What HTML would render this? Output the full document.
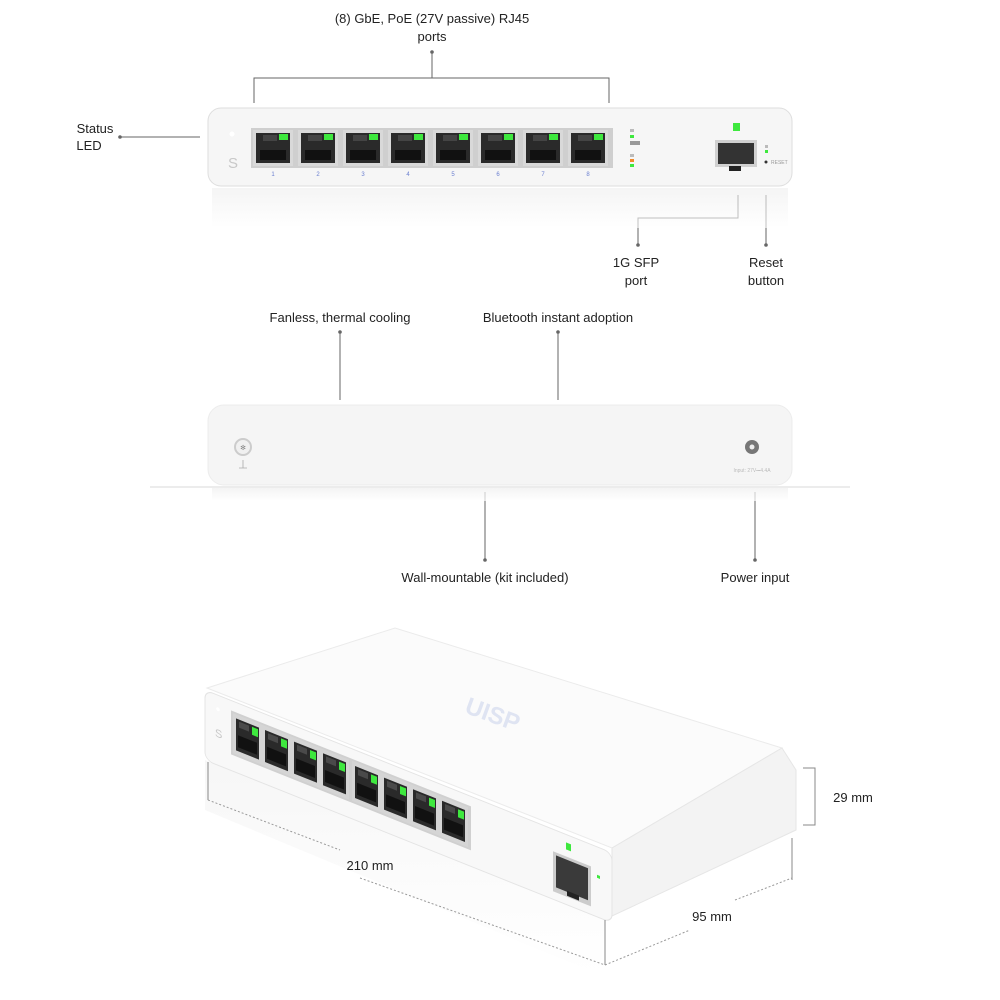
<!DOCTYPE html>
<html><head><meta charset="utf-8"><style>
html,body{margin:0;padding:0;background:#fff;}
svg{display:block;font-family:"Liberation Sans",sans-serif;}
</style></head><body>
<svg width="1000" height="1000" viewBox="0 0 1000 1000" xmlns="http://www.w3.org/2000/svg">
<defs>
<linearGradient id="refl" x1="0" y1="0" x2="0" y2="1"><stop offset="0" stop-color="#eee"/><stop offset="1" stop-color="#fff"/></linearGradient>
<g id="port">
<rect x="0" y="0" width="40" height="36" fill="#d9d9d9"/>
<rect x="3" y="3" width="34" height="30" fill="#2a2a2a"/>
<rect x="10" y="5" width="14" height="6" fill="#444"/>
<rect x="7" y="20" width="26" height="10" fill="#111"/>
<rect x="26" y="4" width="9" height="6" fill="#3ee83e"/>
</g>
<g id="sport">
<rect x="0" y="0" width="29" height="40" fill="#d5d5d5"/>
<rect x="3" y="4" width="23" height="32" fill="#2a2a2a"/>
<rect x="6" y="6" width="10" height="6" fill="#4a4a4a"/>
<rect x="5" y="20" width="19" height="12" fill="#111"/>
<rect x="19" y="6" width="6" height="8" fill="#3ee83e"/>
</g>
</defs>

<g stroke="#666" stroke-width="1" fill="none">
<path d="M432 52 V78 M254 103 V78 H609 V103"/>
<path d="M120 137 H200"/>
<path d="M738 195 V218 H638 V245"/>
<path d="M766 195 V245"/>
<path d="M340 332 V400 M558 332 V400"/>
<path d="M485 492 V560 M755 492 V560"/>
</g>
<g fill="#666"><circle cx="432" cy="52" r="1.8"/><circle cx="120" cy="137" r="1.8"/><circle cx="638" cy="245" r="1.8"/><circle cx="766" cy="245" r="1.8"/><circle cx="340" cy="332" r="1.8"/><circle cx="558" cy="332" r="1.8"/><circle cx="485" cy="560" r="1.8"/><circle cx="755" cy="560" r="1.8"/></g>

<!-- Device 1 -->
<rect x="212" y="188" width="576" height="40" fill="url(#refl)" opacity="0.6"/>
<rect x="208" y="108" width="584" height="78" rx="13" fill="#f6f6f6" stroke="#dedede"/>
<circle cx="232" cy="134" r="2.5" fill="#fff"/>
<text x="228" y="168" font-size="15" fill="#c8c8c8">S</text>
<rect x="251" y="128" width="362" height="40" fill="#cfcfcf"/>
<use href="#port" x="253" y="130"/><use href="#port" x="298" y="130"/><use href="#port" x="343" y="130"/><use href="#port" x="388" y="130"/>
<use href="#port" x="433" y="130"/><use href="#port" x="478" y="130"/><use href="#port" x="523" y="130"/><use href="#port" x="568" y="130"/>
<g font-size="6" fill="#6a7fd0" text-anchor="middle">
<text x="273" y="176">1</text><text x="318" y="176">2</text><text x="363" y="176">3</text><text x="408" y="176">4</text><text x="453" y="176">5</text><text x="498" y="176">6</text><text x="543" y="176">7</text><text x="588" y="176">8</text>
</g>
<g>
<rect x="630" y="129" width="4" height="3" fill="#bbb"/><rect x="630" y="135" width="4" height="3" fill="#3ee83e"/><rect x="630" y="141" width="10" height="4" fill="#999"/>
<rect x="630" y="154" width="4" height="3" fill="#bbb"/><rect x="630" y="159" width="4" height="3" fill="#f28a2a"/><rect x="630" y="164" width="4" height="3" fill="#3ee83e"/>
</g>
<rect x="733" y="123" width="7" height="8" fill="#3ee83e"/>
<rect x="715" y="140" width="42" height="27" fill="#d0d0d0"/>
<rect x="718" y="143" width="36" height="21" fill="#333"/>
<rect x="729" y="166" width="12" height="5" fill="#222"/>
<rect x="765" y="145" width="3" height="3" fill="#bbb"/><rect x="765" y="150" width="3" height="3" fill="#3ee83e"/>
<circle cx="766" cy="162" r="1.5" fill="#333"/>
<text x="771" y="164" font-size="5" fill="#999">RESET</text>

<!-- Device 2 -->
<rect x="212" y="487" width="576" height="14" fill="url(#refl)" opacity="0.7"/>
<rect x="208" y="405" width="584" height="80" rx="16" fill="#f5f5f5" stroke="#ececec"/>
<line x1="150" y1="487" x2="850" y2="487" stroke="#ececec" stroke-width="2"/>
<circle cx="243" cy="447" r="8" fill="#f0f0f0" stroke="#ccc" stroke-width="2"/>
<text x="243" y="450" font-size="7" fill="#888" text-anchor="middle">✻</text>
<path d="M243 460 V468 M239 468 H247" stroke="#aaa" stroke-width="0.8"/>
<circle cx="752" cy="447" r="7" fill="#777"/><circle cx="752" cy="447" r="2.5" fill="#eee"/>
<text x="752" y="472" font-size="5" fill="#bbb" text-anchor="middle">Input: 27V⎓4.4A</text>

<!-- Device 3 isometric -->
<polygon points="205,760 605,920 600,975 205,810" fill="url(#refl)" opacity="0.5"/>
<polygon points="207,688 395,628 782,748 612,848" fill="#fbfbfb" stroke="#ebebeb"/>
<polygon points="612,848 782,748 796,770 796,830 612,916" fill="#f3f3f3" stroke="#e6e6e6"/>
<g transform="matrix(1,0.4,0,1,205,690)">
<rect x="0" y="0" width="407" height="70" rx="8" fill="#f8f8f8" stroke="#e4e4e4"/>
<text x="10" y="42" font-size="11" fill="#c8c8c8">S</text>
<circle cx="13" cy="14" r="1.8" fill="#fff"/>
<rect x="26" y="10" width="240" height="44" fill="#d0d0d0"/>
<use href="#sport" x="28" y="12"/><use href="#sport" x="57" y="12"/><use href="#sport" x="86" y="12"/><use href="#sport" x="115" y="12"/>
<use href="#sport" x="147" y="12"/><use href="#sport" x="176" y="12"/><use href="#sport" x="205" y="12"/><use href="#sport" x="234" y="12"/>
<rect x="361" y="8" width="5" height="7" fill="#3ee83e"/>
<rect x="348" y="22" width="38" height="40" fill="#ccc"/>
<rect x="351" y="25" width="32" height="32" fill="#3a3a3a"/>
<rect x="362" y="56" width="12" height="5" fill="#222"/>
<rect x="392" y="28" width="3" height="3" fill="#3ee83e"/>
</g>
<text x="490" y="722" font-size="24" font-weight="bold" fill="#dfe4f2" transform="rotate(20 490 722)" text-anchor="middle">UISP</text>

<g stroke="#888" stroke-width="1" fill="none">
<path d="M208 762 V800 M605 920 V965 M792 838 V880 M803 768 H815 V825 H803"/>
</g>
<g stroke="#999" stroke-width="1" fill="none" stroke-dasharray="2,2">
<path d="M208 800 L340 850 M360 878 L605 965 M605 965 L690 930 M735 900 L792 878"/>
</g>

<g font-size="13" fill="#222" text-anchor="middle">
<text x="432" y="23">(8) GbE, PoE (27V passive) RJ45</text>
<text x="432" y="41">ports</text>
<text x="95" y="133">Status</text>
<text x="89" y="150">LED</text>
<text x="636" y="267">1G SFP</text>
<text x="636" y="285">port</text>
<text x="766" y="267">Reset</text>
<text x="766" y="285">button</text>
<text x="340" y="322">Fanless, thermal cooling</text>
<text x="558" y="322">Bluetooth instant adoption</text>
<text x="485" y="582">Wall-mountable (kit included)</text>
<text x="755" y="582">Power input</text>
<text x="370" y="870">210 mm</text>
<text x="712" y="921">95 mm</text>
<text x="853" y="802">29 mm</text>
</g>
</svg>
</body></html>
